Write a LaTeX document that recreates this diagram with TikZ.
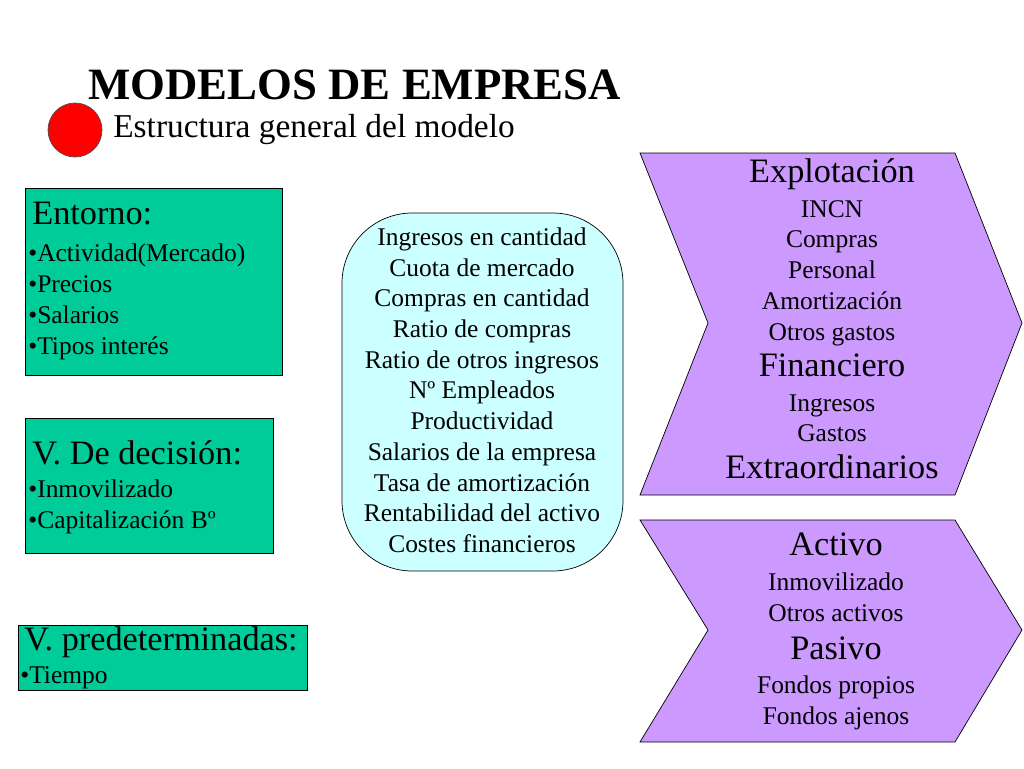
\documentclass[tikz,border=0pt]{standalone}
\usepackage{fontspec}
\setmainfont{Liberation Serif}
\usetikzlibrary{positioning}
\definecolor{boxgreen}{HTML}{00CC99}
\definecolor{boxcyan}{HTML}{CCFFFF}
\definecolor{arrowlilac}{HTML}{CC99FF}
\tikzset{
  greenbox/.style={draw=black, fill=boxgreen},
  small/.style={font=\fontsize{14.5}{16}\selectfont, inner sep=0pt, text height=1.5ex, text depth=.4ex},
  big/.style={font=\fontsize{19.5}{22}\selectfont, inner sep=0pt, text height=1.5ex, text depth=.4ex},
}
\begin{document}
\begin{tikzpicture}[x=0.02cm, y=-0.02cm]
\useasboundingbox (0,0) rectangle (1024,768);
% title
\node[anchor=west, inner sep=0pt, font=\bfseries\fontsize{25.5}{30}\selectfont] (title) at (88,85) {MODELOS DE EMPRESA};
\draw[fill=red, draw=black!70] (75,130) circle (27);
\node[anchor=west, inner sep=0pt, font=\fontsize{19}{22}\selectfont] (sub) at (113,130) {Estructura general del modelo};
% green boxes
\draw[greenbox] (25,188) rectangle (282,375);
\node[big, anchor=west] (ent) at (32,220) {Entorno:};
\foreach \y/\t in {257/Actividad(Mercado), 288/Precios, 319/Salarios, 350/Tipos interés}
  \node[small, anchor=west] at (28,\y) {\textbullet\t};
\draw[greenbox] (25,418) rectangle (273,553);
\node[big, anchor=west] (dec) at (32,460) {V. De decisión:};
\foreach \y/\t in {493/Inmovilizado, 524/Capitalización Bº}
  \node[small, anchor=west] at (28,\y) {\textbullet\t};
\draw[greenbox] (18,625) rectangle (307,690);
\node[big, anchor=west] (pre) at (24,646) {V. predeterminadas:};
\node[small, anchor=west] at (20,679) {\textbullet Tiempo};
% central box
\draw[fill=boxcyan, rounded corners=40] (342,213) rectangle (623,571);
\foreach \y/\t in {241/Ingresos en cantidad, 272/Cuota de mercado, 302/Compras en cantidad, 333/Ratio de compras, 364/Ratio de otros ingresos, 394/Nº Empleados, 425/Productividad, 456/Salarios de la empresa, 487/Tasa de amortización, 517/Rentabilidad del activo, 548/Costes financieros}
  \node[small] at (482,\y) {\t};
% chevrons
\draw[fill=arrowlilac] (640,153) -- (955,153) -- (1022,323) -- (955,495) -- (640,495) -- (708,323) -- cycle;
\foreach \y/\t/\s in {178/Explotación/big, 213/INCN/small, 243/Compras/small, 274/Personal/small, 305/Amortización/small, 336/Otros gastos/small, 372/Financiero/big, 407/Ingresos/small, 437/Gastos/small, 474/Extraordinarios/big}
  \node[\s] at (832,\y) {\t};
\draw[fill=arrowlilac] (640,520) -- (955,520) -- (1022,630) -- (955,742) -- (640,742) -- (708,630) -- cycle;
\foreach \y/\t/\s in {551/Activo/big, 586/Inmovilizado/small, 617/Otros activos/small, 655/Pasivo/big, 689/Fondos propios/small, 720/Fondos ajenos/small}
  \node[\s] at (836,\y) {\t};
\end{tikzpicture}
\end{document}
